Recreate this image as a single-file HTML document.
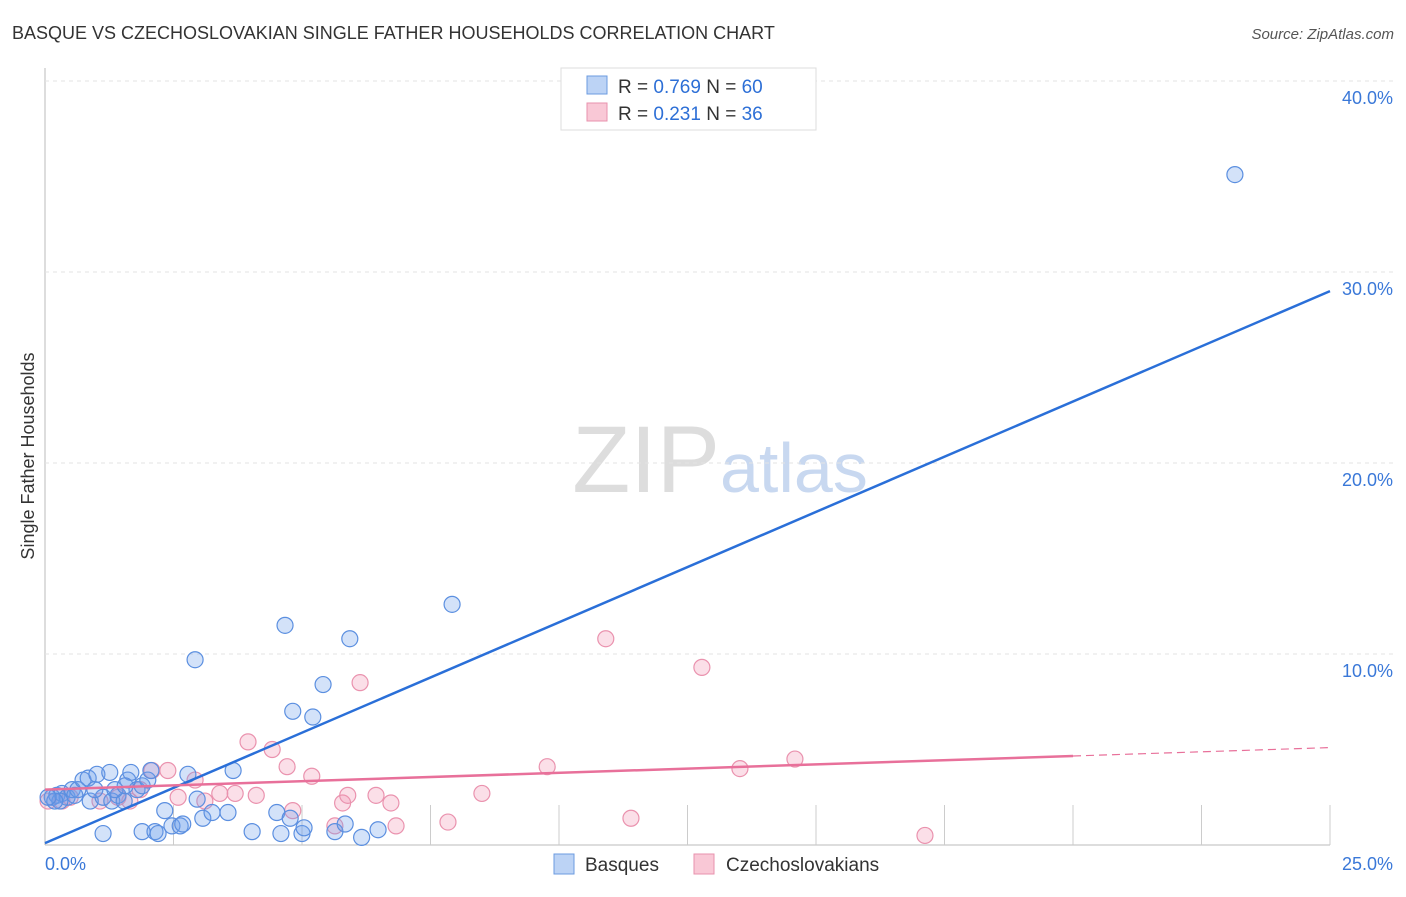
<!DOCTYPE html>
<html><head><meta charset="utf-8"><style>
body{margin:0;background:#fff;font-family:"Liberation Sans",sans-serif}
svg text{font-family:"Liberation Sans",sans-serif}
</style></head><body>
<svg id="c" width="1406" height="892" xmlns="http://www.w3.org/2000/svg">
<text x="12" y="39" font-size="18" fill="#333">BASQUE VS CZECHOSLOVAKIAN SINGLE FATHER HOUSEHOLDS CORRELATION CHART</text>
<text x="1394" y="39" font-size="15" fill="#555" text-anchor="end" font-style="italic">Source: ZipAtlas.com</text>
<text x="720" y="492" font-size="95" fill="#ddd" text-anchor="end" font-family="Liberation Serif">ZIP</text>
<text x="720" y="492" font-size="70" fill="#c8d8f0">atlas</text>
<text transform="translate(34,456) rotate(-90)" font-size="18" fill="#333" text-anchor="middle">Single Father Households</text>
<g id="grid"></g><g id="pts"></g><g id="lines"></g>
<g>
<rect x="561" y="68" width="255" height="62" fill="#fff" stroke="#ddd"/>
<rect x="587" y="76" width="20" height="18" fill="#bcd3f5" stroke="#6b9be0"/>
<rect x="587" y="103" width="20" height="18" fill="#f9c8d6" stroke="#e892ad"/>
<text x="618" y="93" font-size="19" fill="#333">R = <tspan fill="#2d6fd6">0.769</tspan>   N = <tspan fill="#2d6fd6">60</tspan></text>
<text x="618" y="120" font-size="19" fill="#333">R =  <tspan fill="#2d6fd6">0.231</tspan>   N =  <tspan fill="#2d6fd6">36</tspan></text>
</g>
<g>
<rect x="554" y="854" width="20" height="20" fill="#bcd3f5" stroke="#6b9be0"/>
<text x="585" y="871" font-size="19" fill="#333">Basques</text>
<rect x="694" y="854" width="20" height="20" fill="#f9c8d6" stroke="#e892ad"/>
<text x="726" y="871" font-size="19" fill="#333">Czechoslovakians</text>
</g>
</svg>
<script>
const xTicks=[0,25];
const yTicks=[10,20,30,40];
const blueX=[0.14,0.23,0.33,0.43,0.53,0.64,0.74,0.84,1.01,0.88,1.13,1.26,1.30,1.42,1.54,1.61,1.67,1.79,1.89,2.00,2.06,1.13,1.89,2.14,2.20,2.33,2.47,2.63,2.68,2.78,2.92,2.96,3.07,3.25,3.56,3.66,4.03,4.51,4.59,4.67,4.77,4.82,5.00,5.04,5.21,5.41,5.64,5.84,5.93,6.16,6.48,7.92,23.15,0.29,0.58,1.36,1.56,0.97,0.19,0.06];
const blueY=[2.5,2.6,2.7,2.5,2.9,2.9,3.4,3.5,3.7,2.3,2.5,3.8,2.3,2.6,2.3,3.4,3.8,2.9,3.1,3.4,3.9,0.6,0.7,0.7,0.6,1.8,1.0,1.0,1.1,3.7,9.7,2.4,1.4,1.7,1.7,3.9,0.7,1.7,0.6,11.5,1.4,7.0,0.6,0.9,6.7,8.4,0.7,1.1,10.8,0.4,0.8,12.6,35.1,2.3,2.6,2.9,3.1,2.9,2.3,2.5];
const pinkX=[0.06,0.33,0.49,1.07,1.42,1.85,2.08,2.39,2.59,2.92,3.11,3.40,3.70,3.95,4.11,4.42,4.71,4.82,5.19,5.64,5.79,5.89,6.13,6.44,6.73,6.83,7.84,8.50,9.77,10.91,11.40,12.78,13.52,14.59,17.12,1.65];
const pinkY=[2.3,2.3,2.5,2.3,2.5,2.9,3.9,3.9,2.5,3.4,2.3,2.7,2.7,5.4,2.6,5.0,4.1,1.8,3.6,1.0,2.2,2.6,8.5,2.6,2.2,1.0,1.2,2.7,4.1,10.8,1.4,9.3,4.0,4.5,0.5,2.3];
const blueLine=[0.1,1.156]; // intercept, slope
const pinkLine=[2.9,0.088];
const X=v=>45+v/25*1285, Y=v=>845-v*19.1;
const NS='http://www.w3.org/2000/svg';
function mk(t,a,p){const e=document.createElementNS(NS,t);for(const k in a)e.setAttribute(k,a[k]);p.appendChild(e);return e;}
const g=document.getElementById('grid');
let ax=mk('line',{x1:45,y1:68,x2:45,y2:845,stroke:'#bbb'},g);


let bx=mk('line',{x1:45,y1:845,x2:1330,y2:845,stroke:'#bbb'},g);


for(let k=1;k<=10;k++){const l=mk('line',{x1:X(k*2.5),y1:805,x2:X(k*2.5),y2:845,stroke:'#ccc'},g);

}
yTicks.forEach(v=>{const l=mk('line',{x1:45,y1:Y(v),x2:1394,y2:Y(v),stroke:'#e3e3e3','stroke-dasharray':'4,4'},g);


const t=mk('text',{x:1393,y:Y(v)+23,'font-size':18,fill:'#3a78d8','text-anchor':'end'},g);t.textContent=v.toFixed(1)+'%';

});
xTicks.forEach(v=>{const t=mk('text',{x:v==0?45:1393,y:870,'font-size':18,fill:'#3a78d8','text-anchor':v==0?'start':'end'},g);t.textContent=v.toFixed(1)+'%';

});
const p=document.getElementById('pts');
pinkX.forEach((x,i)=>{const c=mk('circle',{cx:X(x),cy:Y(pinkY[i]),r:8,fill:'rgba(242,150,180,0.3)',stroke:'#ea92ae','stroke-width':1.2},p);

});
blueX.forEach((x,i)=>{const c=mk('circle',{cx:X(x),cy:Y(blueY[i]),r:8,fill:'rgba(110,160,235,0.3)',stroke:'#5b8fe0','stroke-width':1.2},p);

});
const L=document.getElementById('lines');
let b=mk('line',{x1:X(0),y1:Y(blueLine[0]),x2:X(25),y2:Y(blueLine[0]+25*blueLine[1]),stroke:'#2a6fd8','stroke-width':2.5},L);


let pk=mk('line',{x1:X(0),y1:Y(pinkLine[0]),x2:X(20),y2:Y(pinkLine[0]+20*pinkLine[1]),stroke:'#e8709a','stroke-width':2.5},L);


let pd=mk('line',{x1:X(20),y1:Y(pinkLine[0]+20*pinkLine[1]),x2:X(25),y2:Y(pinkLine[0]+25*pinkLine[1]),stroke:'#e8709a','stroke-width':1.2,'stroke-dasharray':'8,5'},L);


</script>
</body></html>
